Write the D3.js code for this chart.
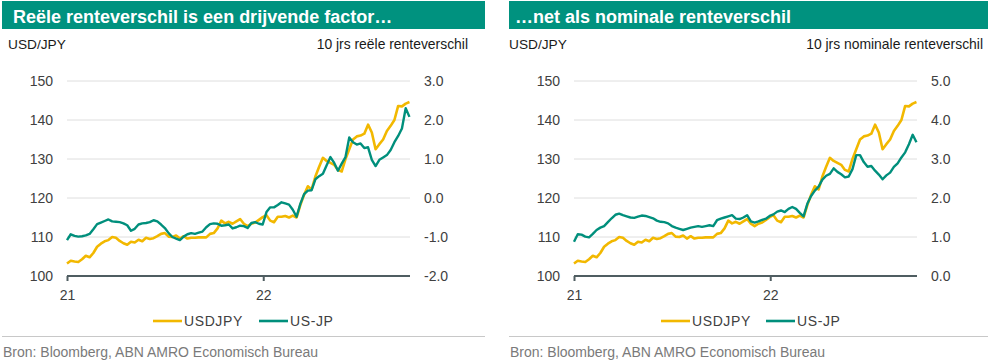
<!DOCTYPE html>
<html><head><meta charset="utf-8">
<script src="https://cdn.jsdelivr.net/npm/d3@7"></script>
<style>
body{margin:0;background:#fff}
svg{display:block}
text{font-family:"Liberation Sans",Arial,Helvetica,sans-serif}
</style>
</head><body>
<svg id="c" width="988" height="364"></svg>
<script>
const weekDates = d3.timeDay.range(new Date(2021,0,1), new Date(2022,9,1), 7);

const usdjpy = [
103.2,103.9,103.7,103.6,104.3,105.2,104.8,105.9,107.5,108.3,
108.9,109.2,110.0,109.8,109.0,108.4,108.0,108.8,108.6,109.3,
108.9,109.8,109.5,109.7,110.2,110.8,111.0,110.1,110.0,110.4,
109.6,110.2,109.6,109.8,109.8,109.9,109.9,109.9,110.8,111.0,
112.2,114.2,113.5,113.9,113.4,114.0,114.6,113.4,112.8,113.4,
113.7,114.4,115.1,115.6,114.2,113.8,115.2,115.2,115.4,115.0,
115.5,115.0,118.2,120.8,123.0,122.2,125.5,128.0,130.3,129.5,
129.0,128.5,127.2,126.8,130.0,132.5,135.0,135.8,136.0,136.5,
138.8,136.8,132.5,133.8,135.0,137.2,138.5,140.0,143.6,143.5,
144.2,144.6
];

const realDiff = [
-1.08,-0.93,-0.97,-0.99,-0.98,-0.96,-0.92,-0.80,-0.67,-0.63,
-0.59,-0.55,-0.60,-0.61,-0.62,-0.65,-0.70,-0.84,-0.79,-0.68,
-0.65,-0.64,-0.62,-0.57,-0.60,-0.68,-0.77,-0.90,-1.00,-1.04,
-1.08,-0.99,-0.93,-0.90,-0.92,-0.89,-0.86,-0.75,-0.67,-0.65,
-0.66,-0.71,-0.70,-0.68,-0.78,-0.75,-0.71,-0.72,-0.77,-0.64,
-0.62,-0.66,-0.68,-0.36,-0.24,-0.24,-0.18,-0.11,-0.14,-0.17,
-0.30,-0.48,-0.15,0.10,0.19,0.20,0.48,0.56,0.62,0.84,
1.05,0.90,0.70,0.88,1.05,1.55,1.43,1.37,1.40,1.28,
1.30,0.98,0.82,0.98,1.04,1.10,1.23,1.43,1.59,1.78,
2.30,2.08
];

const nominalDiff = [
0.88,1.07,1.06,1.01,0.99,1.08,1.18,1.24,1.28,1.38,
1.48,1.57,1.60,1.56,1.53,1.50,1.49,1.52,1.55,1.54,
1.51,1.48,1.42,1.39,1.38,1.35,1.28,1.24,1.21,1.18,
1.21,1.24,1.26,1.28,1.26,1.28,1.30,1.28,1.43,1.47,
1.50,1.53,1.56,1.47,1.46,1.50,1.56,1.40,1.37,1.40,
1.44,1.47,1.54,1.58,1.65,1.68,1.64,1.72,1.77,1.72,
1.62,1.53,1.85,2.05,2.19,2.29,2.47,2.57,2.62,2.76,
2.67,2.61,2.53,2.55,2.74,3.10,3.10,2.92,2.80,2.82,
2.70,2.60,2.48,2.58,2.65,2.80,2.89,3.04,3.17,3.38,
3.62,3.43
];

const usdjpyTicks = [100,110,120,130,140,150];
const realTicks = [-2,-1,0,1,2,3];
const nominalTicks = [0,1,2,3,4,5];
const yearTicks = [new Date(2021,0,1), new Date(2022,0,1)];
const yearLabels = ["21","22"];
const seriesNames = ["USDJPY","US-JP"];
const titles = ["Reële renteverschil is een drijvende factor…", "…net als nominale renteverschil"];
const rightUnits = ["10 jrs reële renteverschil", "10 jrs nominale renteverschil"];
const leftUnit = "USD/JPY";
const sourceText = "Bron: Bloomberg, ABN AMRO Economisch Bureau";

// ---- STYLE / LAYOUT ----
const C = {header:"#00927f", teal:"#008f7c", yellow:"#f2b800", grid:"#dedede",
           axis:"#4f5d61", tick:"#404040", text:"#1a1a1a", source:"#7a7a7a", sep:"#c8c8c8"};
const layout = [
  {hx:2, hw:483, tx:13, ux:8, rux:468, pl:67, pr:410, llx:53, rlx:424, ly:153, lt:259, s1:2, s2:485, sx:3},
  {hx:509, hw:479, tx:515, ux:509, rux:983, pl:574, pr:917, llx:560, rlx:931, ly:661, lt:766, s1:509, s2:988, sx:510}
];
const diffs = [realDiff, nominalDiff];
const diffTicks = [realTicks, nominalTicks];
const yTop = 81, yBot = 276;

const svg = d3.select("#c");
const fmt1 = v => d3.format(".1f")(v).replace("−","-");

layout.forEach((L, p) => {
  const g = svg.append("g");
  // header
  g.append("rect").attr("x", L.hx).attr("y", 1).attr("width", L.hw).attr("height", 28).attr("fill", C.header);
  g.append("text").attr("x", L.tx).attr("y", 22.5).attr("fill", "#fff")
    .attr("font-size", 18).attr("font-weight", "bold").text(titles[p]);
  g.append("text").attr("x", L.ux).attr("y", 49).attr("fill", C.text).attr("font-size", 13.7).text(leftUnit);
  g.append("text").attr("x", L.rux).attr("y", 49).attr("fill", C.text).attr("font-size", 13.9)
    .attr("text-anchor", "end").text(rightUnits[p]);

  const x = d3.scaleTime().domain([new Date(2021,0,1), new Date(2022,9,1)]).range([L.pl, L.pr]);
  const yL = d3.scaleLinear().domain([100,150]).range([yBot, yTop]);
  const yR = d3.scaleLinear().domain(d3.extent(diffTicks[p])).range([yBot, yTop]);

  // gridlines
  g.append("g").selectAll("line").data(usdjpyTicks.slice(1)).join("line")
    .attr("x1", L.pl).attr("x2", L.pr).attr("y1", d => yL(d)).attr("y2", d => yL(d))
    .attr("stroke", C.grid).attr("stroke-width", 1);

  // left axis labels
  const la = g.append("g").attr("transform", `translate(${L.llx},0)`)
    .call(d3.axisLeft(yL).tickValues(usdjpyTicks).tickSize(0).tickPadding(0).tickFormat(d3.format("d")));
  la.select(".domain").remove();
  la.selectAll("text").attr("fill", C.tick).attr("font-size", 14).attr("font-family", null).attr("dy", "0.35em");
  // right axis labels
  const ra = g.append("g").attr("transform", `translate(${L.rlx},0)`)
    .call(d3.axisRight(yR).tickValues(diffTicks[p]).tickSize(0).tickPadding(0).tickFormat(fmt1));
  ra.select(".domain").remove();
  ra.selectAll("text").attr("fill", C.tick).attr("font-size", 14).attr("font-family", null).attr("dy", "0.35em");

  // lines
  const lineL = d3.line().x((d,i) => x(weekDates[i])).y(d => yL(d));
  const lineR = d3.line().x((d,i) => x(weekDates[i])).y(d => yR(d));
  g.append("path").datum(usdjpy).attr("d", lineL).attr("fill","none").attr("stroke", C.yellow)
    .attr("stroke-width", 2.6).attr("stroke-linejoin","round");
  g.append("path").datum(diffs[p]).attr("d", lineR).attr("fill","none").attr("stroke", C.teal)
    .attr("stroke-width", 2.4).attr("stroke-linejoin","round");

  // x axis
  const xa = g.append("g").attr("transform", `translate(0,${yBot})`)
    .call(d3.axisBottom(x).tickValues(yearTicks).tickSize(5).tickPadding(9).tickFormat((d,i) => yearLabels[i]));
  xa.select(".domain").attr("stroke", C.axis).attr("stroke-width", 2.2).attr("d", `M${L.pl},0H${L.pr}`);
  xa.selectAll(".tick line").attr("stroke", C.axis).attr("stroke-width", 2);
  xa.selectAll("text").attr("fill", C.tick).attr("font-size", 14).attr("font-family", null);

  // legend
  const lg = g.append("g");
  [[L.ly, C.yellow, seriesNames[0]], [L.lt, C.teal, seriesNames[1]]].forEach(([lx, col, name]) => {
    lg.append("line").attr("x1", lx).attr("x2", lx + 29).attr("y1", 321).attr("y2", 321)
      .attr("stroke", col).attr("stroke-width", 2.6);
    lg.append("text").attr("x", lx + 31).attr("y", 326).attr("fill", C.tick).attr("font-size", 14)
      .attr("letter-spacing", 0.6).text(name);
  });

  // separator + source
  g.append("line").attr("x1", L.s1).attr("x2", L.s2).attr("y1", 336.5).attr("y2", 336.5)
    .attr("stroke", C.sep).attr("stroke-width", 1);
  g.append("text").attr("x", L.sx).attr("y", 357).attr("fill", C.source).attr("font-size", 14).text(sourceText);
});
</script>
</body></html>
